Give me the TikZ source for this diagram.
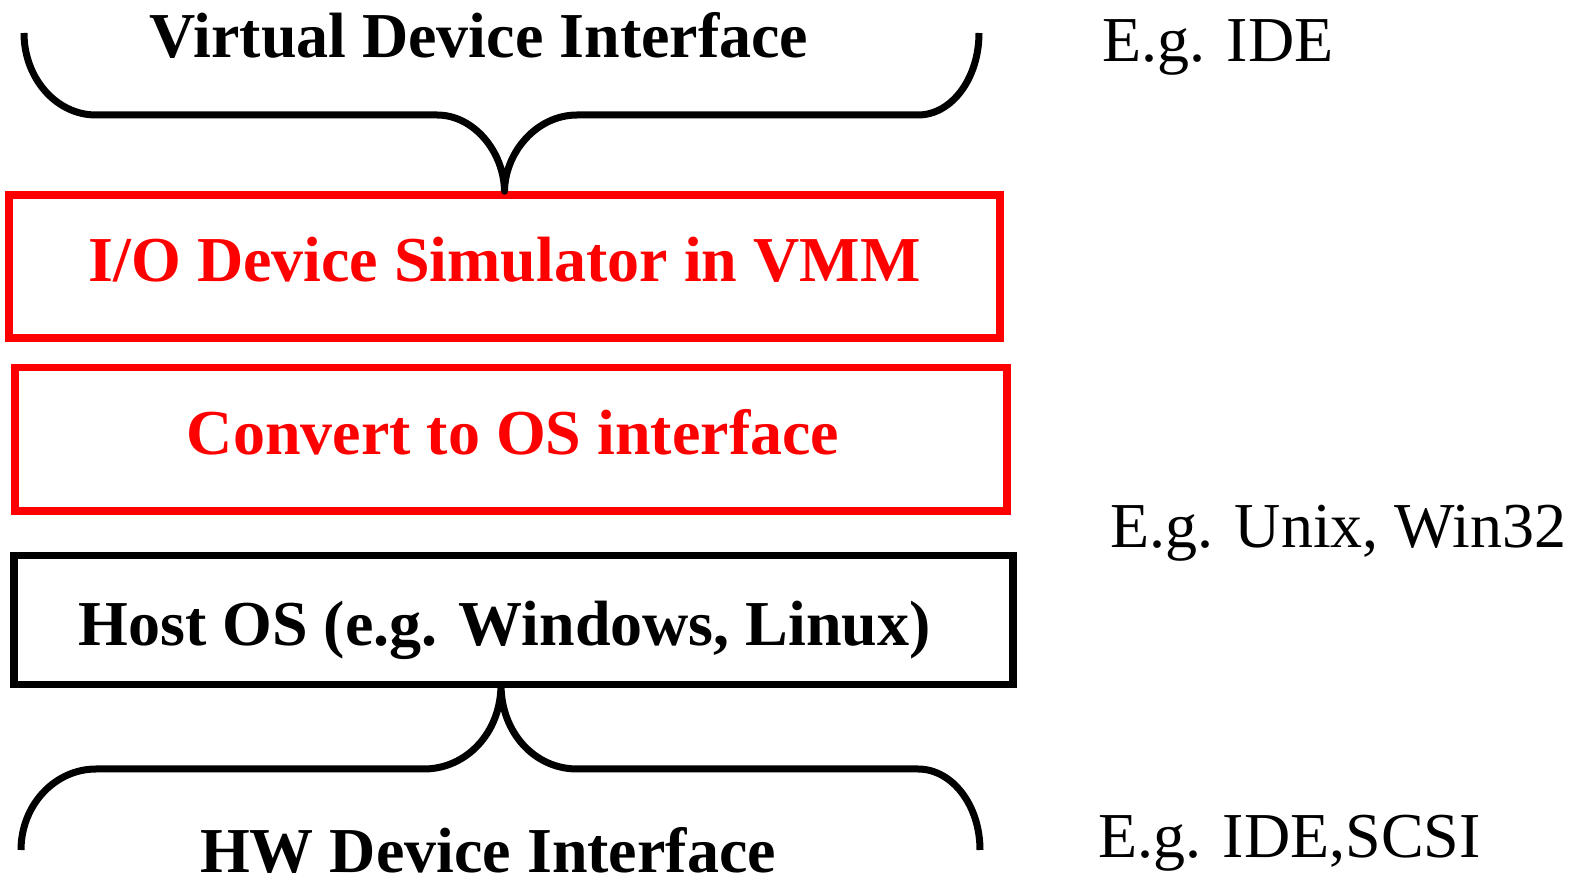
\documentclass[tikz,border=0pt]{standalone}
\usepackage{fontspec}
\setmainfont{Liberation Serif}
\begin{document}
\begin{tikzpicture}[x=0.5pt,y=-0.5pt,
  brace/.style={draw=black, line width=3.5pt, line join=round},
  redbox/.style={draw=red, line width=3.75pt, inner sep=0pt},
  blackbox/.style={draw=black, line width=3.75pt, inner sep=0pt},
  boldtext/.style={font=\fontsize{32}{38}\selectfont\bfseries, inner sep=0pt, anchor=base},
  plaintext/.style={font=\fontsize{32}{38}\selectfont, inner sep=0pt, anchor=base west}]
\fill[white] (0,0) rectangle (1581,876);
\useasboundingbox (0,0) rectangle (1581,876);

% boxes
\node[redbox, minimum width=495.5pt, minimum height=71.5pt] (sim) at (504.5,266.5) {};
\node[redbox, minimum width=496pt, minimum height=71.75pt] (conv) at (511,439.25) {};
\node[blackbox, minimum width=499.5pt, minimum height=64.5pt] (host) at (513.5,620) {};

% texts
\node[boldtext] (vdi) at (479,58) {Virtual Device Interface};
\node[boldtext, text=red] (simtext) at (504.5,282) {I/O Device Simulator in VMM};
\node[boldtext, text=red] (convtext) at (513,455) {Convert to OS interface};
\node[boldtext] (hosttext) at (504.5,646) {Host OS (e.g. Windows, Linux)};
\node[boldtext] (hw) at (488,872) {HW Device Interface};

\node[plaintext] (eg1) at (1102,62) {E.g. IDE};
\node[plaintext] (eg2) at (1110,548) {E.g. Unix, Win32};
\node[plaintext] (eg3) at (1098,858) {E.g. IDE,SCSI};

% top brace
\draw[brace] (24,33) .. controls (24,78) and (56,115) .. (96,115) -- (437,115)
  .. controls (474,115) and (504,152) .. (sim.north)
  .. controls (505,152) and (537,115) .. (577,115) -- (918,115)
  .. controls (952,115) and (979,78) .. (979,33);

% bottom brace
\coordinate (btip) at (501,684.5);
\draw[brace] (21,850) .. controls (21,805) and (55,769) .. (96,769) -- (424,769)
  .. controls (466,769) and (501,733) .. (btip)
  .. controls (501,733) and (535,769) .. (577,769) -- (918,769)
  .. controls (952,769) and (980,805) .. (980,850);
\end{tikzpicture}
\end{document}
